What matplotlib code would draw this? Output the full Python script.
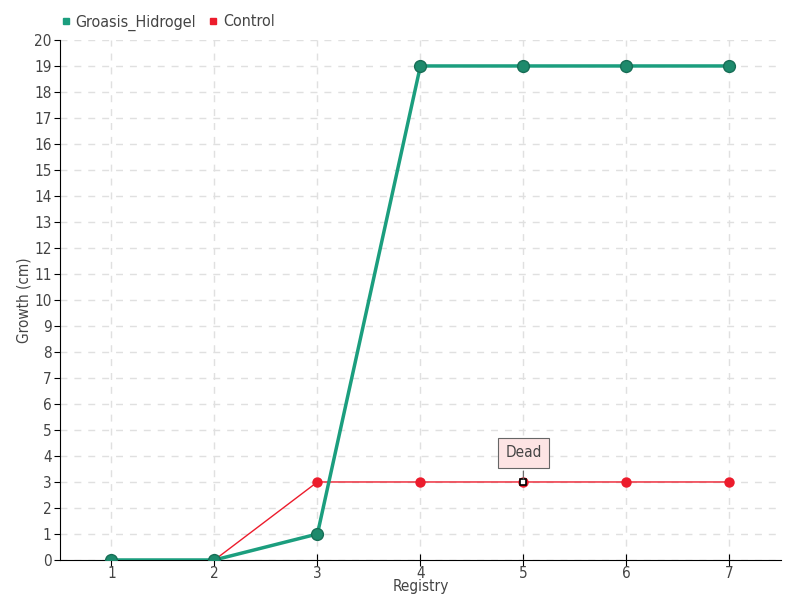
import matplotlib
matplotlib.use("Agg")
import matplotlib.pyplot as plt
from matplotlib.lines import Line2D

plt.rcParams['font.family'] = ['DejaVu Sans']
plt.rcParams['font.stretch'] = 'condensed'

registry = [1, 2, 3, 4, 5, 6, 7]
groasis = [0, 0, 1, 19, 19, 19, 19]
control = [0, 0, 3, 3, 3, 3, 3]
dead_idx = 4

green = '#1b9e7e'
green_dark = '#1d8a6c'
red = '#ec1c2c'
txt = '#444444'

fig = plt.figure(figsize=(8, 6), dpi=100)
ax = fig.add_axes([0.075, 0.0667, 0.901, 0.8667])

ax.plot(registry, groasis, color=green, lw=2.5, zorder=3)
ax.plot(registry, groasis, 'o', color=green_dark, ms=8.5, mec='#176e56', mew=1, zorder=4)
ax.plot(registry, control, color=red, lw=1, zorder=2)
ax.plot(registry, control, 'o', color=red, ms=7.5, mew=0, zorder=2)
ax.plot(registry[dead_idx], control[dead_idx], 's', color='white', mec='black', ms=4, mew=1.2, zorder=5)

ax.annotate('Dead', (registry[dead_idx], control[dead_idx]), xytext=(0, 21),
            textcoords='offset points', ha='center', va='center', fontsize=11, color=txt,
            bbox=dict(boxstyle='square,pad=0.5', fc='#fde4e4', ec='#666666', lw=0.8),
            arrowprops=dict(arrowstyle='-', color='#666666', lw=0.8), zorder=6)

ax.set_xlim(0.5, 7.5)
ax.set_ylim(0, 20)
ax.set_xticks(registry)
ax.set_yticks(range(0, 21))
ax.tick_params(axis='x', direction='inout', length=8, labelsize=11, labelcolor=txt, pad=0)
ax.tick_params(axis='y', direction='out', length=4, labelsize=11, labelcolor=txt, pad=2)
for s in ['top', 'right']:
    ax.spines[s].set_visible(False)
ax.grid(True, ls=(0, (5, 5)), color='#e0e0e0', lw=1)
ax.set_axisbelow(True)

ax.set_xlabel('Registry', fontsize=11, color=txt, labelpad=-1)
ax.set_ylabel('Growth (cm)', fontsize=11, color=txt, labelpad=2)

handles = [Line2D([], [], ls='', marker='s', color=green, ms=5),
           Line2D([], [], ls='', marker='s', color=red, ms=5)]
fig.legend(handles, ['Groasis_Hidrogel', 'Control'], loc='upper left', bbox_to_anchor=(0.052, 1.0),
           ncol=2, frameon=False, fontsize=11.5, handletextpad=0.0, columnspacing=0.5, handlelength=1.2,
           labelcolor=txt)

fig.savefig('out.png', dpi=100)
